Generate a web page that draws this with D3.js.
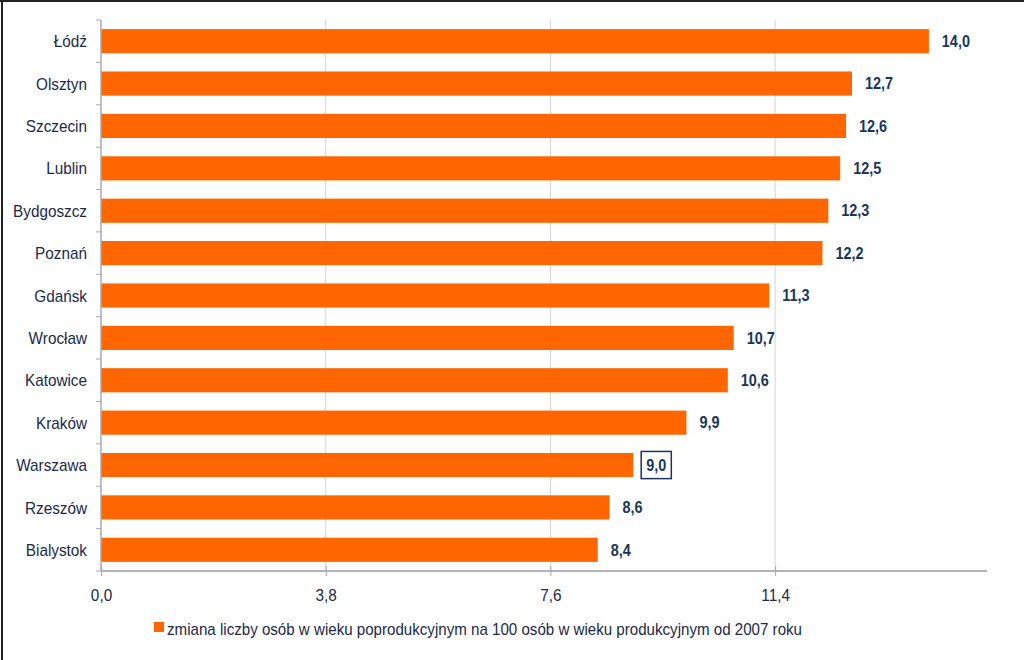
<!DOCTYPE html>
<html><head><meta charset="utf-8">
<script src="https://cdn.jsdelivr.net/npm/d3@7/dist/d3.min.js"></script>
<style>html,body{margin:0;padding:0;background:#fff;}svg{display:block;}</style>
</head><body>
<svg id="c" width="1024" height="660"></svg>
<script>
const categories = ["Łódź","Olsztyn","Szczecin","Lublin","Bydgoszcz","Poznań","Gdańsk","Wrocław","Katowice","Kraków","Warszawa","Rzeszów","Bialystok"];
const values = [14.0,12.7,12.6,12.5,12.3,12.2,11.3,10.7,10.6,9.9,9.0,8.6,8.4];
const tickValues = [0, 3.8, 7.6, 11.4];
const tickLabels = ["0,0","3,8","7,6","11,4"];
const highlighted = ["Warszawa"];
const legendLabel = "zmiana liczby osób w wieku poprodukcyjnym na 100 osób w wieku produkcyjnym od 2007 roku";

const svg = d3.select("#c");
const textColor = "#1c2a48";
const labelColor = "#17365d";
const barColor = "#ff6600";
const font = "'Liberation Sans', Arial, sans-serif";

function compress(sel, f) {
  sel.each(function(){
    const w = this.getComputedTextLength();
    d3.select(this).attr("textLength", w * f).attr("lengthAdjust", "spacingAndGlyphs");
  });
}

// frame
svg.append("line").attr("x1",0).attr("x2",1024).attr("y1",1).attr("y2",1).attr("stroke","#222").attr("stroke-width",2);
svg.append("line").attr("x1",2).attr("x2",2).attr("y1",0).attr("y2",660).attr("stroke","#222").attr("stroke-width",2);

const x = d3.scaleLinear().domain([0, 15]).range([101, 988]);
const y = d3.scaleBand().domain(categories).range([20, 571]).paddingInner(0.43).paddingOuter(0.215);

// gridlines
svg.append("g").selectAll("line").data(tickValues.slice(1)).join("line")
  .attr("x1", d => x(d)).attr("x2", d => x(d)).attr("y1", 20).attr("y2", 571)
  .attr("stroke", "#d4d4d8").attr("stroke-width", 1);

// bars
svg.append("g").selectAll("rect").data(values).join("rect")
  .attr("x", x(0)).attr("y", (d,i) => y(categories[i]))
  .attr("width", d => x(d) - x(0)).attr("height", y.bandwidth())
  .attr("fill", barColor);

// x axis
const xAxis = d3.axisBottom(x).tickValues(tickValues).tickFormat((d,i) => tickLabels[i]).tickSize(5).tickSizeOuter(0);
const gx = svg.append("g").attr("transform", "translate(0,571)").call(xAxis);
gx.select(".domain").attr("stroke", "#b4b4b8").attr("stroke-width", 2).attr("d", `M${x(0)},0H987`);
gx.selectAll(".tick line").attr("stroke", "#a8a8b0").attr("y1", -5).attr("y2", 5);
gx.selectAll(".tick text").attr("fill", textColor).attr("font-family", font).attr("font-size", 17).attr("dy", null).attr("y", 30);
compress(gx.selectAll(".tick text"), 0.9);

// y axis
const gy = svg.append("g").attr("transform", `translate(${x(0)},0)`);
gy.append("line").attr("x1",0).attr("x2",0).attr("y1",20).attr("y2",571).attr("stroke","#a8a8b4").attr("stroke-width",1.5);
const bounds = d3.range(categories.length + 1).map(i => 20 + i * y.step());
gy.selectAll("line.t").data(bounds).join("line").attr("class","t")
  .attr("x1",-5).attr("x2",0).attr("y1",d=>d).attr("y2",d=>d).attr("stroke","#a8a8b4");
const catText = gy.selectAll("text").data(categories).join("text")
  .attr("x", -14).attr("y", d => y(d) + y.bandwidth()/2).attr("dy", "0.36em")
  .attr("text-anchor", "end").attr("fill", textColor)
  .attr("font-family", font).attr("font-size", 17).text(d => d);
compress(catText, 0.9);

// value labels
const vl = svg.append("g");
const valText = vl.selectAll("text").data(values).join("text")
  .attr("x", d => x(d) + 13).attr("y", (d,i) => y(categories[i]) + y.bandwidth()/2).attr("dy","0.36em")
  .attr("fill", labelColor).attr("font-family", font).attr("font-weight","bold").attr("font-size", 16)
  .text(d => d.toFixed(1).replace(".", ","));
compress(valText, 0.9);
valText.each(function(d,i){
  if (highlighted.includes(categories[i])) {
    const b = this.getBBox();
    vl.append("rect").attr("x", b.x - 5).attr("y", y(categories[i]) - 1.5)
      .attr("width", b.width + 10).attr("height", y.bandwidth() + 3)
      .attr("fill","none").attr("stroke", labelColor).attr("stroke-width", 1.5);
  }
});

// legend
svg.append("rect").attr("x",154).attr("y",622).attr("width",10).attr("height",10).attr("fill",barColor);
svg.append("text").attr("x",167).attr("y",635).attr("fill",textColor).attr("font-family",font).attr("font-size",17)
  .attr("textLength", 635).attr("lengthAdjust","spacingAndGlyphs").text(legendLabel);
</script>
</body></html>
